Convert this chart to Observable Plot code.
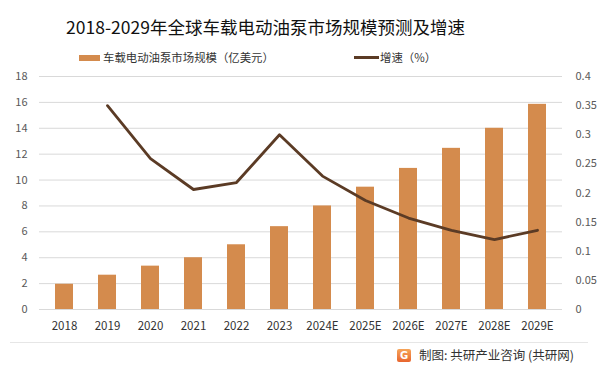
<!DOCTYPE html>
<html><head><meta charset="utf-8">
<script src="https://cdn.jsdelivr.net/npm/d3@7"></script>
<script src="https://cdn.jsdelivr.net/npm/@observablehq/plot@0.6"></script>
<style>
body{margin:0;background:#fff;font-family:"Noto Sans CJK SC","Noto Sans",sans-serif;}
#wrap{position:relative;width:602px;height:374px;overflow:hidden;}
#wrap svg{position:absolute;left:0;top:0;}
.t{position:absolute;white-space:nowrap;color:#222;}
</style></head><body>
<div id="wrap">
  <div class="t" style="left:5px;width:521px;text-align:center;top:13px;font-size:17.5px;line-height:28px;color:#111;">2018-2029年全球车载电动油泵市场规模预测及增速</div>
  <div style="position:absolute;left:79px;top:55px;width:21px;height:6px;background:#D48B4D;"></div>
  <div class="t" style="left:103px;top:49px;font-size:11.4px;line-height:16px;color:#333;">车载电动油泵市场规模（亿美元）</div>
  <div style="position:absolute;left:354px;top:56px;width:25px;height:3px;background:#5B3B25;"></div>
  <div class="t" style="left:380px;top:49px;font-size:11.4px;line-height:16px;color:#333;">增速（%）</div>
  <div style="position:absolute;left:10px;top:342px;width:578px;height:1px;background:#e6e6e6;"></div>
  <div style="position:absolute;left:397px;top:349px;width:14px;height:13px;background:linear-gradient(#f6a55a,#e8652e);border-radius:2px;color:#fff;font:bold 10px/13px 'DejaVu Sans',sans-serif;text-align:center;">G</div>
  <div class="t" style="left:419px;top:346px;font-size:12.5px;line-height:18px;color:#333;">制图: 共研产业咨询 (共研网)</div>
</div>
<script>
const years = ["2018","2019","2020","2021","2022","2023","2024E","2025E","2026E","2027E","2028E","2029E"];
const marketSize = [1.95, 2.65, 3.35, 4.0, 5.0, 6.4, 8.0, 9.45, 10.9, 12.45, 14.0, 15.85];
const growthYears = ["2019","2020","2021","2022","2023","2024E","2025E","2026E","2027E","2028E","2029E"];
const growthRate = [0.35, 0.259, 0.206, 0.218, 0.30, 0.229, 0.187, 0.157, 0.136, 0.12, 0.136];
const leftTicks = [0,2,4,6,8,10,12,14,16,18];
const rightTicks = [0,0.05,0.1,0.15,0.2,0.25,0.3,0.35,0.4];
const rightLabels = ["0","0.05","0.1","0.15","0.2","0.25","0.3","0.35","0.4"];

const k = 18 / 0.4;
const bars = years.map((y,i)=>({year:y, value:marketSize[i]}));
const line = growthYears.map((y,i)=>({year:y, value:growthRate[i]*k}));

const chart = Plot.plot({
  width: 602, height: 374,
  marginTop: 76, marginBottom: 65, marginLeft: 39, marginRight: 40,
  style: {fontFamily: "'Noto Sans CJK SC','Noto Sans',sans-serif", background: "transparent"},
  x: {domain: years, paddingInner: 0.59, paddingOuter: 0.295, label: null},
  y: {domain: [0, 18], label: null},
  marks: [
    Plot.gridY(leftTicks, {stroke: "#d9d9d9", strokeOpacity: 1, strokeWidth: 1}),
    Plot.barY(bars, {x: "year", y: "value", fill: "#D48B4D"}),
    Plot.line(line, {x: "year", y: "value", stroke: "#5B3B25", strokeWidth: 2.8, curve: "linear"}),
    Plot.axisY(leftTicks, {anchor: "left", tickSize: 0, tickPadding: 12, fontSize: 11, fill: "#595959", label: null}),
    Plot.axisY(rightTicks.map(v=>v*k), {anchor: "right", tickSize: 0, tickPadding: 13, fontSize: 11, fill: "#595959", label: null, textAnchor: "start",
      tickFormat: (d,i) => rightLabels[i]}),
    Plot.axisX({tickSize: 0, tickPadding: 12, fontSize: 11.5, fill: "#333", label: null})
  ]
});
document.getElementById("wrap").prepend(chart);
</script>
</body></html>
